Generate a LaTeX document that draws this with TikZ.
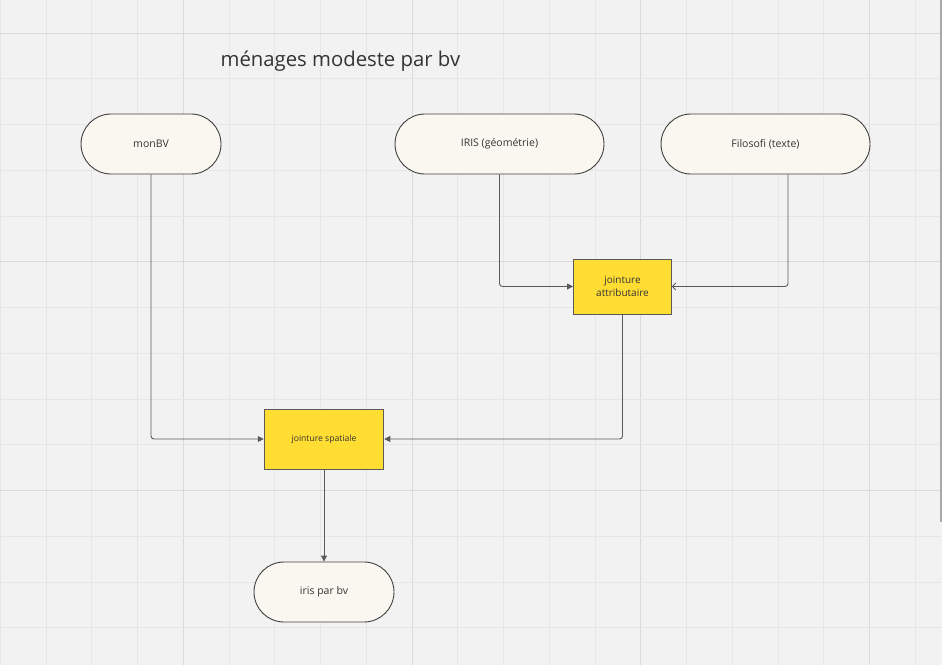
\documentclass[tikz,border=0pt]{standalone}
\usepackage{fontspec}
\setmainfont{Open Sans}
\usetikzlibrary{arrows.meta}
\definecolor{bg}{HTML}{F2F2F2}
\definecolor{gminor}{HTML}{E6E6E6}
\definecolor{gmajor}{HTML}{DADADA}
\definecolor{pillfill}{HTML}{FAF7F0}
\definecolor{boxfill}{HTML}{FFDD33}
\definecolor{edgecol}{HTML}{5A5A5A}
\definecolor{txt}{HTML}{333333}
\definecolor{scroll}{HTML}{A8A8A8}
\begin{document}
\begin{tikzpicture}[x=1pt,y=-1pt,
  pill/.style={draw=black!75, line width=0.9pt, fill=pillfill, rectangle, rounded corners=30pt,
    minimum height=60pt, inner sep=0pt, text=txt, font=\fontsize{10.5}{12}\selectfont},
  jbox/.style={draw=black!65, line width=1pt, fill=boxfill, rectangle, inner sep=0pt,
    text=txt, align=center},
  conn/.style={draw=edgecol, line width=0.9pt, rounded corners=3pt},
  filled/.style={-{Triangle[length=6pt,width=6pt]}},
  barb/.style={-{Straight Barb[length=3pt,width=7pt]}}]
\useasboundingbox (0,0) rectangle (942,665);
\fill[bg] (0,0) rectangle (942,665);
% grid
\foreach \k in {0,...,20}{
  \pgfmathtruncatemacro{\m}{mod(\k,5)}
  \ifnum\m=4
    \draw[gmajor, line width=1pt] ({0.25+45.75*\k},0) -- ({0.25+45.75*\k},665);
  \else
    \draw[gminor, line width=0.9pt] ({0.25+45.75*\k},0) -- ({0.25+45.75*\k},665);
  \fi
}
\foreach \k in {1,...,15}{
  \pgfmathtruncatemacro{\m}{mod(\k,5)}
  \ifnum\m=1
    \draw[gmajor, line width=1pt] (0,{-12.75+45.75*\k}) -- (942,{-12.75+45.75*\k});
  \else
    \draw[gminor, line width=0.9pt] (0,{-12.75+45.75*\k}) -- (942,{-12.75+45.75*\k});
  \fi
}
\fill[scroll] (940,0) rectangle (942,522);
% title
\node[anchor=base west, inner sep=0pt, text=txt, font=\fontsize{20.3}{24}\selectfont] (title) at (220.5,66.7) {ménages modeste par bv};
% nodes
\node[pill, minimum width=140pt] (mon) at (151,144) {monBV};
\node[pill, minimum width=209pt] (iris) at (499.5,144) {IRIS (géométrie)};
\node[pill, minimum width=209pt] (fil) at (765.5,144) {Filosofi (texte)};
\node[jbox, minimum width=98pt, minimum height=55pt, font=\fontsize{10}{13}\selectfont] (ja) at (622.5,286.5) {jointure\\attributaire};
\node[jbox, minimum width=119.5pt, minimum height=60pt, font=\fontsize{8.6}{10}\selectfont] (js) at (324,439) {jointure spatiale};
\node[pill, minimum width=140pt] (out) at (324,592) {iris par bv};
% connectors
\draw[conn, filled] (mon.south) |- (js.west);
\draw[conn, filled] (iris.south) |- (ja.west);
\draw[conn, barb] ([xshift=22.5pt]fil.south) |- (ja.east);
\draw[conn, filled] (ja.south) |- (js.east);
\draw[conn, filled] (js.south) -- (out.north);
\end{tikzpicture}
\end{document}
